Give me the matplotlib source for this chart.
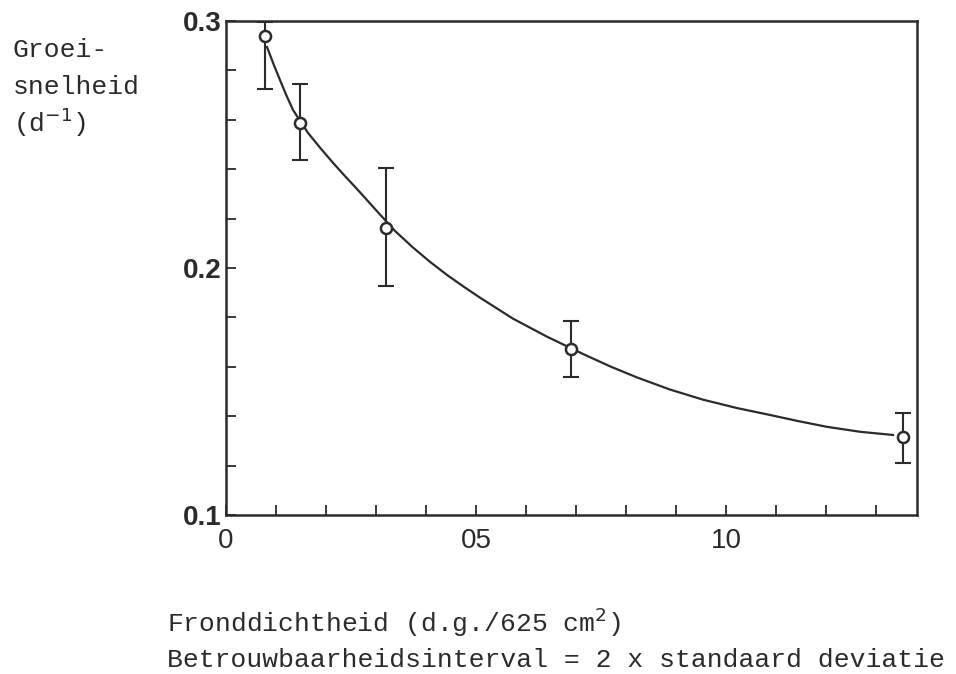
import matplotlib
matplotlib.use("Agg")
import matplotlib.pyplot as plt
from matplotlib.ticker import MultipleLocator, FixedLocator, FixedFormatter

# measured points (frond density vs growth rate)
dens = [0.078, 0.148, 0.32, 0.69, 1.354]
rate = [0.294, 0.2587, 0.2162, 0.1672, 0.1316]
rate_lo = [0.2725, 0.2437, 0.1927, 0.1559, 0.121]
rate_hi = [0.2996, 0.2745, 0.2405, 0.1785, 0.1413]

# fitted curve
curve_x = [0.082, 0.095, 0.108, 0.121, 0.134, 0.164, 0.189, 0.214, 0.238, 0.262, 0.302,
           0.338, 0.374, 0.408, 0.442, 0.475, 0.508, 0.574, 0.642, 0.714, 0.768,
           0.822, 0.888, 0.954, 1.022, 1.088, 1.145, 1.202, 1.268, 1.334]
curve_y = [0.2895, 0.2826, 0.2761, 0.2698, 0.2640, 0.2547, 0.2485, 0.2426, 0.2372, 0.2320, 0.2230,
           0.2150, 0.2083, 0.2025, 0.1972, 0.1925, 0.1880, 0.1795, 0.1722, 0.1652, 0.1602,
           0.1557, 0.1508, 0.1467, 0.1433, 0.1405, 0.1380, 0.1357, 0.1337, 0.1324]

xticks = [0, 0.5, 1.0]
xticklabels = ['0', '05', '10']
yticks = [0.1, 0.2, 0.3]
yticklabels = ['0.1', '0.2', '0.3']

ink = '#2b2b2b'
mono = ['Liberation Mono', 'DejaVu Sans Mono']

fig = plt.figure(figsize=(9.56, 6.74), dpi=100)
ax = fig.add_axes([0.2364, 0.2359, 0.7228, 0.7329])

ax.plot(curve_x, curve_y, color=ink, lw=1.6, zorder=2)
yerr = [[r - lo for r, lo in zip(rate, rate_lo)], [hi - r for r, hi in zip(rate, rate_hi)]]
ax.errorbar(dens, rate, yerr=yerr, fmt='none', ecolor=ink, elinewidth=1.5,
            capsize=6, capthick=1.5, zorder=3)
ax.plot(dens, rate, 'o', ms=8, mfc='white', mec=ink, mew=1.8, zorder=4)

ax.set_xlim(0, 1.382)
ax.set_ylim(0.1, 0.3)
ax.xaxis.set_major_locator(FixedLocator(xticks))
ax.xaxis.set_major_formatter(FixedFormatter(xticklabels))
ax.xaxis.set_minor_locator(MultipleLocator(0.1))
ax.yaxis.set_major_locator(FixedLocator(yticks))
ax.yaxis.set_major_formatter(FixedFormatter(yticklabels))
ax.yaxis.set_minor_locator(MultipleLocator(0.02))

ax.tick_params(which='both', direction='in', color=ink, width=1.3, length=7)
ax.tick_params(axis='x', which='major', pad=9, labelsize=20, labelcolor=ink)
ax.tick_params(axis='y', which='major', pad=3, labelsize=20, labelcolor=ink)
for lab in ax.get_yticklabels():
    lab.set_fontweight('bold')
    lab.set_family('Liberation Sans')
for lab in ax.get_xticklabels():
    lab.set_family('Liberation Sans')
for sp in ax.spines.values():
    sp.set_color(ink)
    sp.set_linewidth(1.8)

fig.text(13 / 956, 1 - 50 / 674, 'Groei-', family=mono, fontsize=19, color=ink, va='center')
fig.text(13 / 956, 1 - 87 / 674, 'snelheid', family=mono, fontsize=19, color=ink, va='center')
fig.text(13 / 956, 1 - 122 / 674, '(d$^{-1}$)', family=mono, fontsize=19, color=ink, va='center')

fig.text(167 / 956, 1 - 622 / 674, 'Fronddichtheid (d.g./625 cm$^{2}$)', family=mono,
         fontsize=19, color=ink, va='center')
fig.text(167 / 956, 1 - 660 / 674, 'Betrouwbaarheidsinterval = 2 x standaard deviatie',
         family=mono, fontsize=19, color=ink, va='center')

fig.savefig('out.png', dpi=100, facecolor='white')
